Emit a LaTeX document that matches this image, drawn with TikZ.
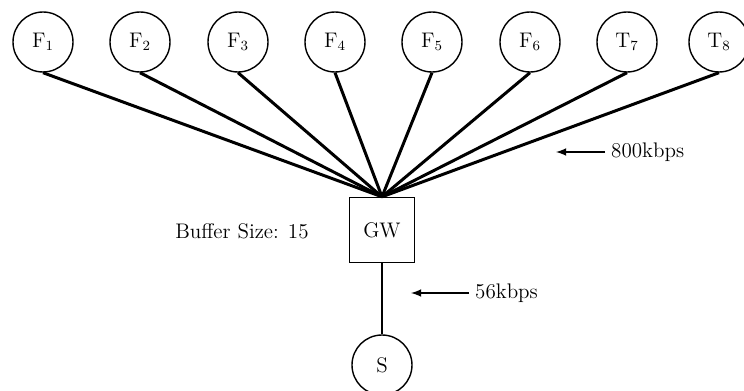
\documentclass[tikz,border=0pt]{standalone}
\usepackage{amsmath}
\usepackage{tikz}
\usetikzlibrary{positioning}
\usetikzlibrary{arrows,shapes}
\usetikzlibrary{calc}

\begin{document}
\begin{tikzpicture}[scale=1., auto,swap]
 \useasboundingbox (0,0) rectangle (14.88,-7.82);
 \tikzset{host/.style={draw, circle, line width=0.8pt, minimum size=1.2cm, inner sep=0pt, font=\large},
          link/.style={line width=1.7pt}}
 %sources
 \node[host] (f1) at (0.86,-0.84) {$\mathrm{F}_1$};
 \node[host] (f2) at (2.8,-0.84) {$\mathrm{F}_2$};
 \node[host] (f3) at (4.76,-0.84) {$\mathrm{F}_3$};
 \node[host] (f4) at (6.7,-0.84) {$\mathrm{F}_4$};
 \node[host] (f5) at (8.64,-0.84) {$\mathrm{F}_5$};
 \node[host] (f6) at (10.6,-0.84) {$\mathrm{F}_6$};
 \node[host] (t7) at (12.54,-0.84) {$\mathrm{T}_7$};
 \node[host] (t8) at (14.38,-0.84) {$\mathrm{T}_8$};

 %gateway
 \node[draw, line width=0.8pt, minimum size=1.3cm, font=\large] (gw) at (7.64,-4.6) {GW};
 \node[font=\large] (buf) at (4.84,-4.62) {Buffer Size: 15};

 %sink
 \node[host] (s) at (7.64,-7.3) {S};

 %lines
 \path[draw, link] (f1.south) -- (gw.north);
 \path[draw, link] (f2.south) -- (gw.north);
 \path[draw, link] (f3.south) -- (gw.north);
 \path[draw, link] (f4.south) -- (gw.north);
 \path[draw, link] (f5.south) -- (gw.north);
 \path[draw, link] (f6.south) -- (gw.north);
 \path[draw, link] (t7.south) -- (gw.north);
 \path[draw, link] (t8.south) -- (gw.north);
 \path[draw, line width=0.8pt] (gw.south) -- (s.north);

 %rates
 \node[anchor=west, font=\large] (r1) at (12.1,-3.04) {800kbps};
 \coordinate (a1) at (11.12,-3.04);
 \path[draw, -latex, line width=1pt] (r1.west) -- (a1);

 \node[anchor=west, font=\large] (r2) at (9.38,-5.86) {56kbps};
 \coordinate (a2) at (8.22,-5.86);
 \path[draw, -latex, line width=1pt] (r2.west) -- (a2);

\end{tikzpicture}
\end{document}
